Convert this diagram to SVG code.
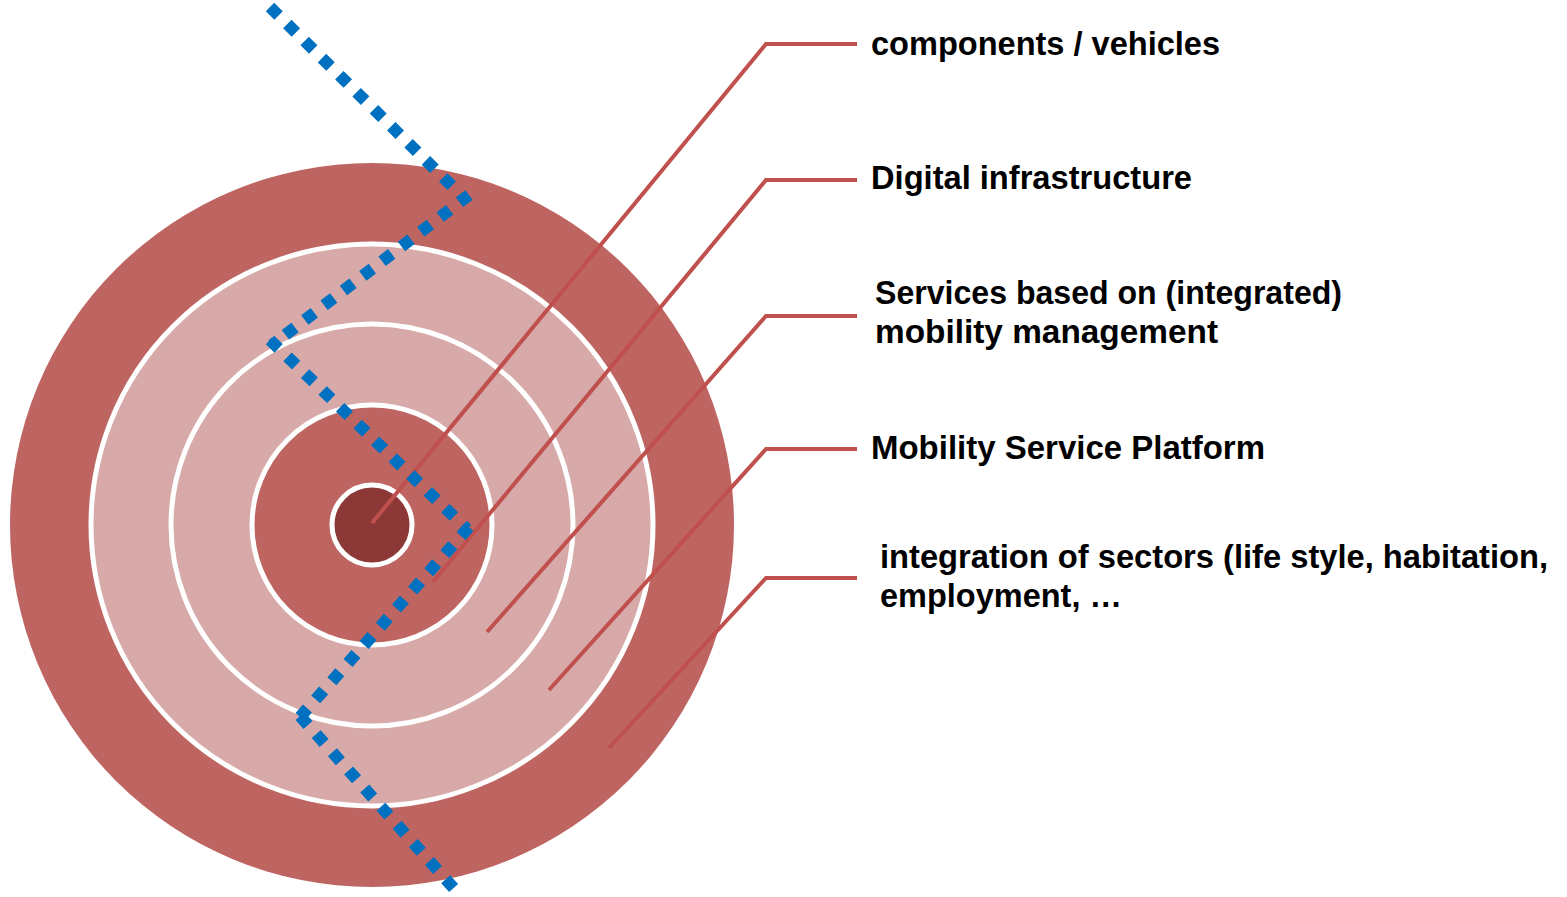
<svg xmlns="http://www.w3.org/2000/svg" width="1567" height="897" viewBox="0 0 1567 897">
  <style>
    .ring { stroke: #FFFFFF; stroke-width: 5; }
    .leader { fill: none; stroke: #C0504D; stroke-width: 4; stroke-linejoin: miter; }
    .dots { fill: none; stroke: #0070C0; stroke-width: 12; stroke-dasharray: 12 12.3; stroke-linecap: butt; }
    .lbl { font-family: "Liberation Sans", Arial, sans-serif; font-weight: bold; font-size: 33.5px; fill: #000000; }
  </style>
  <rect width="1567" height="897" fill="#FFFFFF"/>
  <g id="target">
    <circle id="ring-sectors" cx="372" cy="525" r="362" fill="#BE6562"/>
    <circle id="ring-platform" class="ring" cx="372" cy="525" r="281" fill="#D7A9A8"/>
    <circle id="ring-services" class="ring" cx="372" cy="525" r="201" fill="#D7A9A8"/>
    <circle id="ring-infrastructure" class="ring" cx="372" cy="525" r="120" fill="#BE6562"/>
    <circle id="core-components" class="ring" cx="372" cy="525" r="40" fill="#8B3836"/>
  </g>
  <g id="connectors">
    <polyline class="leader" points="372,523 766,44 857,44"/>
    <polyline class="leader" points="433,582 766,180 857,180"/>
    <polyline class="leader" points="487,632 766,316 857,316"/>
    <polyline class="leader" points="549,690 766,449 857,449"/>
    <polyline class="leader" points="609,748 766,578 857,578"/>
  </g>
  <g id="boundary">
    <line class="dots" x1="270" y1="7" x2="456" y2="190"/>
    <line class="dots" x1="469" y1="195" x2="272" y2="345"/>
    <line class="dots" x1="270" y1="340" x2="467" y2="529"/>
    <line class="dots" x1="469" y1="527" x2="300" y2="717"/>
    <line class="dots" x1="300" y1="716" x2="458" y2="893"/>
  </g>
  <g id="label-components">
    <text class="lbl" x="871" y="55" textLength="349" lengthAdjust="spacingAndGlyphs">components / vehicles</text>
  </g>
  <g id="label-infrastructure">
    <text class="lbl" x="871" y="189" textLength="321" lengthAdjust="spacingAndGlyphs">Digital infrastructure</text>
  </g>
  <g id="label-services">
    <text class="lbl" x="875" y="304" textLength="467" lengthAdjust="spacingAndGlyphs">Services based on (integrated)</text>
    <text class="lbl" x="875" y="343" textLength="343" lengthAdjust="spacingAndGlyphs">mobility management</text>
  </g>
  <g id="label-platform">
    <text class="lbl" x="871" y="459" textLength="394" lengthAdjust="spacingAndGlyphs">Mobility Service Platform</text>
  </g>
  <g id="label-sectors">
    <text class="lbl" x="880" y="568" textLength="668" lengthAdjust="spacingAndGlyphs">integration of sectors (life style, habitation,</text>
    <text class="lbl" x="880" y="607" textLength="242" lengthAdjust="spacingAndGlyphs">employment, …</text>
  </g>
</svg>
